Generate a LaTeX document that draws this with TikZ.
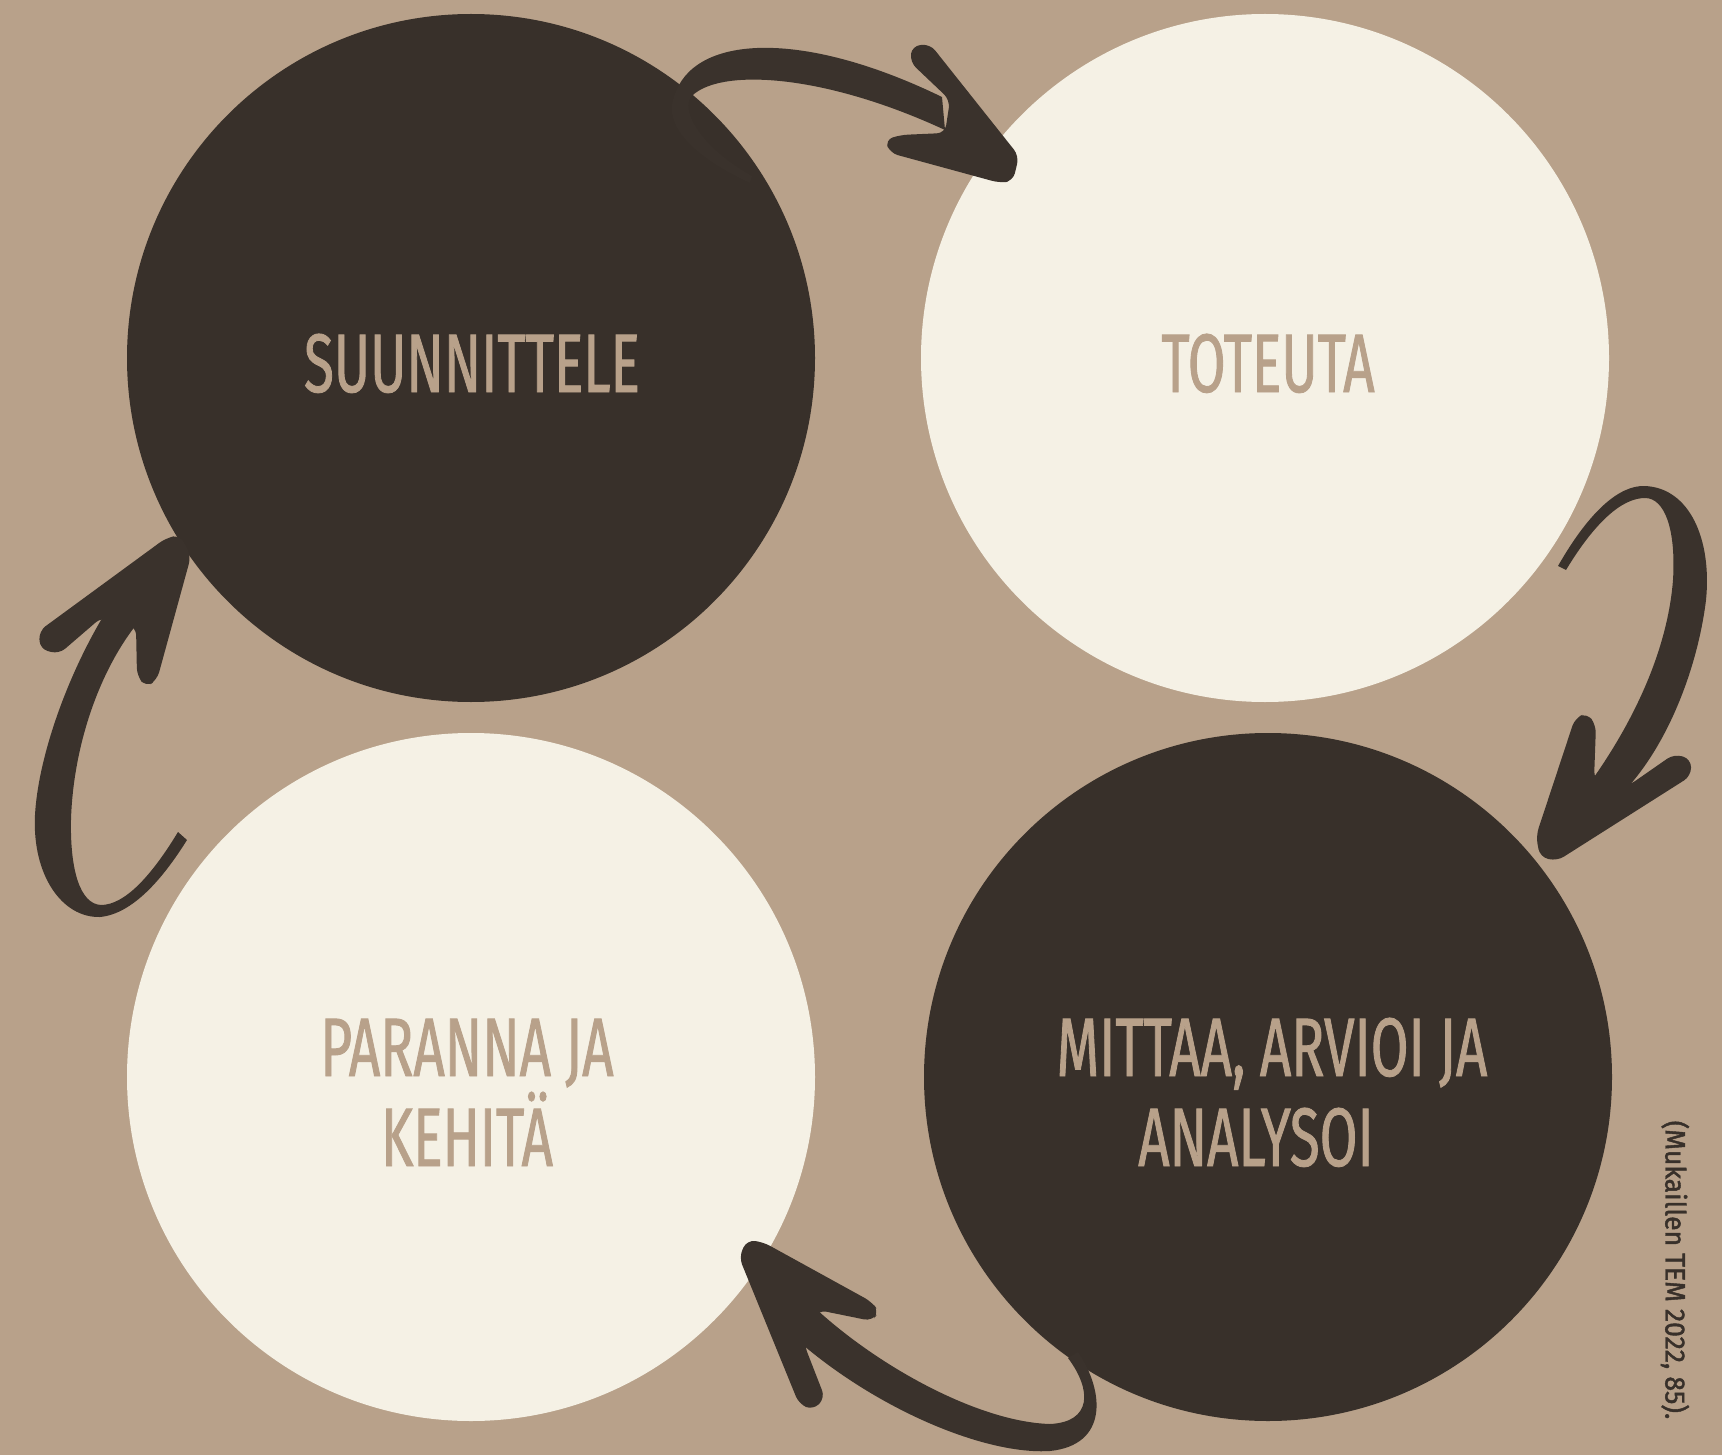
\documentclass[tikz,border=0pt]{standalone}
\usepackage{fontspec}
\newfontfamily\labelfont[FakeStretch=0.66,FakeBold=1.0]{Fira Sans}
\newfontfamily\citefont[FakeStretch=0.95,FakeBold=1.5]{Fira Sans}
\definecolor{bg}{HTML}{B8A18A}
\definecolor{dark}{HTML}{38302A}
\definecolor{cream}{HTML}{F5F1E5}
\definecolor{arrowc}{HTML}{3A322C}
\definecolor{txt}{HTML}{B8A18A}
\tikzset{
  disc/.style={circle, inner sep=0pt, minimum size=688pt},
  darkdisc/.style={disc, fill=dark},
  lightdisc/.style={disc, fill=cream},
  lbl/.style={anchor=base, inner sep=0pt, text=txt, font=\labelfont\fontsize{83pt}{90pt}\selectfont},
  brush/.style={fill=arrowc},
  brushhead/.style={fill=arrowc, rounded corners=8pt},
}
\begin{document}
\begin{tikzpicture}[x=1pt,y=-1pt]
\fill[bg] (0,0) rectangle (1722,1455);
\useasboundingbox (0,0) rectangle (1722,1455);

\node[darkdisc] (plan) at (471,358) {};
\node[lightdisc] (do) at (1265,358) {};
\node[lightdisc] (act) at (471,1077) {};
\node[darkdisc] (check) at (1268,1077) {};

\node[lbl] (tplan) at (472,392) {SUUNNITTELE};
\node[lbl] (tdo) at (1268,392) {TOTEUTA};
\node[lbl] (tact1) at (467,1076) {PARANNA JA};
\node[lbl] (tact2) at (467,1166) {KEHITÄ};
\node[lbl] (tcheck1) at (1272,1076) {MITTAA, ARVIOI JA};
\node[lbl] (tcheck2) at (1256,1166) {ANALYSOI};

\node[rotate=-90, inner sep=0pt, text=dark, font=\citefont\fontsize{28pt}{32pt}\selectfont] (cite) at (1675,1270) {(Mukaillen TEM 2022, 85).};

% arrow 1: plan -> do
\fill[brush] (750,183) .. controls (700,160) and (662,128) .. (674,97)
 .. controls (692,35) and (800,28) .. (942,97)
 -- (945,130)
 .. controls (820,72) and (715,68) .. (690,98)
 .. controls (682,115) and (705,150) .. (752,176) -- cycle;
\fill[brushhead] (950,100) -- (910,62) -- (912,46) -- (930,44) -- (1019,156) -- (1013,181) -- (1000,183) -- (890,153) -- (885,140) -- (900,135) -- (945,133) -- cycle;

% arrow 2: do -> check
\fill[brush] (1558,566) .. controls (1590,510) and (1620,485) .. (1645,486)
 .. controls (1690,488) and (1712,540) .. (1706,600)
 .. controls (1698,665) and (1670,740) .. (1628,787)
 -- (1592,780)
 .. controls (1638,715) and (1668,645) .. (1673,580)
 .. controls (1676,530) and (1665,498) .. (1645,498)
 .. controls (1622,498) and (1595,522) .. (1566,570) -- cycle;
\fill[brushhead] (1594,780) -- (1596,725) -- (1587,713) -- (1575,718) -- (1536,836) -- (1540,857) -- (1557,861) -- (1691,776) -- (1691,759) -- (1674,754) -- (1628,786) -- cycle;

% arrow 3: act -> plan
\fill[brush] (104,615) .. controls (65,680) and (38,760) .. (35,815)
 .. controls (32,875) and (62,918) .. (100,917)
 .. controls (132,914) and (162,880) .. (187,840)
 -- (178,832)
 .. controls (152,875) and (125,905) .. (101,905)
 .. controls (80,904) and (70,870) .. (71,820)
 .. controls (73,750) and (97,675) .. (136,625) -- cycle;
\fill[brushhead] (102,617) -- (59,654) -- (40,649) -- (39,631) -- (166,538) -- (180,535) -- (191,556) -- (157,680) -- (146,687) -- (137,676) -- (136,627) -- cycle;

% arrow 4: check -> act
\fill[brush] (815,1308) .. controls (880,1368) and (980,1422) .. (1050,1424)
 .. controls (1092,1422) and (1092,1390) .. (1068,1358)
 -- (1078,1352)
 .. controls (1105,1392) and (1108,1445) .. (1050,1451)
 .. controls (985,1455) and (880,1410) .. (803,1345) -- cycle;
\fill[brushhead] (818,1310) -- (872,1321) -- (879,1312) -- (872,1302) -- (763,1242) -- (747,1240) -- (739,1257) -- (799,1404) -- (813,1410) -- (825,1398) -- (804,1344) -- cycle;
\end{tikzpicture}
\end{document}
